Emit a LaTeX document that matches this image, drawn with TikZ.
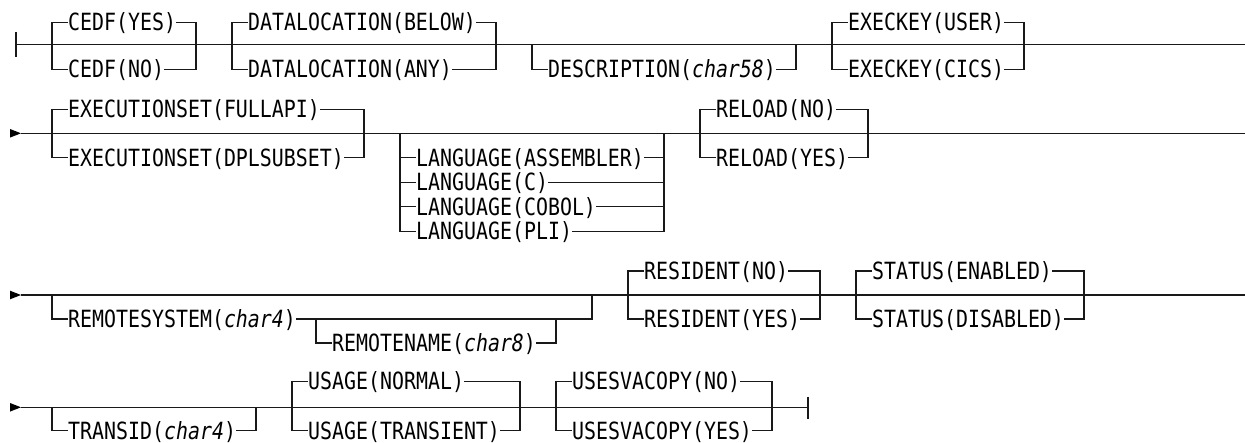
\documentclass[tikz,border=0pt]{standalone}
\usepackage{fontspec}
\newfontfamily\synfont{DejaVu Sans Mono}[FakeStretch=0.84]
% one option of a choice group: name, left x, right x, main-line y, text x, branch y, text
\newcommand\branch[7]{%
  \node[kw] (#1) at (#5,#6) {#7};
  \draw[rail] (#2,#4) |- (#1.west);
  \draw[rail] (#1.east) -| (#3,#4);}
\begin{document}
\begin{tikzpicture}[x=1pt,y=-1pt,
  rail/.style={line width=1.3pt, draw=black!90},
  kw/.style={anchor=west, inner sep=0pt, text height=17pt, text depth=0pt,
             font={\synfont\fontsize{23.7pt}{24pt}\selectfont}},
  arrowhead/.style={fill=black}]
\useasboundingbox (0,0) rectangle (1245,443);

% ---------- first line ----------
\coordinate (s1) at (16,44.5);
\coordinate (e1) at (1245,44.5);
\draw[rail] (16,32) -- (16,57);
\draw[rail] (s1) -- (e1);
\branch{cedfyes}{52}{196}{44.5}{68}{22.5}{CEDF(YES)}
\branch{cedfno}{52}{196}{44.5}{68}{69.5}{CEDF(NO)}
\branch{dlbelow}{232}{496}{44.5}{248}{22.5}{DATALOCATION(BELOW)}
\branch{dlany}{232}{496}{44.5}{248}{69.5}{DATALOCATION(ANY)}
\branch{descr}{532}{796}{44.5}{548}{69.5}{DESCRIPTION(\textit{char58})}
\branch{ekuser}{832}{1024}{44.5}{848}{22.5}{EXECKEY(USER)}
\branch{ekcics}{832}{1024}{44.5}{848}{69.5}{EXECKEY(CICS)}

% ---------- second line ----------
\coordinate (s2) at (21,133.3);
\coordinate (e2) at (1245,133.3);
\fill[arrowhead] (10,129) -- (s2) -- (10,137.6) -- cycle;
\draw[rail] (s2) -- (e2);
\branch{esfull}{52}{364}{133.3}{68}{109.3}{EXECUTIONSET(FULLAPI)}
\branch{esdpl}{52}{364}{133.3}{68}{157.8}{EXECUTIONSET(DPLSUBSET)}
\branch{langasm}{400}{664}{133.3}{416}{157.8}{LANGUAGE(ASSEMBLER)}
\branch{langc}{400}{664}{133.3}{416}{182.3}{LANGUAGE(C)}
\branch{langcob}{400}{664}{133.3}{416}{206.8}{LANGUAGE(COBOL)}
\branch{langpli}{400}{664}{133.3}{416}{231.3}{LANGUAGE(PLI)}
\branch{relno}{700}{868}{133.3}{716}{109.3}{RELOAD(NO)}
\branch{relyes}{700}{868}{133.3}{716}{157.8}{RELOAD(YES)}

% ---------- third line ----------
\coordinate (s3) at (21,295);
\coordinate (e3) at (1245,295);
\fill[arrowhead] (10,290.7) -- (s3) -- (10,299.3) -- cycle;
\draw[rail] (s3) -- (e3);
\branch{rsys}{52}{592}{295}{68}{319}{REMOTESYSTEM(\textit{char4})}
\branch{rname}{316}{556}{319}{332}{343}{REMOTENAME(\textit{char8})}
\branch{resno}{628}{820}{295}{644}{271}{RESIDENT(NO)}
\branch{resyes}{628}{820}{295}{644}{319}{RESIDENT(YES)}
\branch{sten}{856}{1084}{295}{872}{271}{STATUS(ENABLED)}
\branch{stdis}{856}{1084}{295}{872}{319}{STATUS(DISABLED)}

% ---------- fourth line ----------
\coordinate (s4) at (21,407.3);
\coordinate (e4) at (808,407.3);
\fill[arrowhead] (10,403) -- (s4) -- (10,411.6) -- cycle;
\draw[rail] (s4) -- (e4);
\draw[rail] (808,397) -- (808,419);
\branch{tran}{52}{256}{407.3}{68}{430.8}{TRANSID(\textit{char4})}
\branch{usnorm}{292}{520}{407.3}{308}{381.5}{USAGE(NORMAL)}
\branch{ustran}{292}{520}{407.3}{308}{430.8}{USAGE(TRANSIENT)}
\branch{uvno}{556}{772}{407.3}{572}{381.5}{USESVACOPY(NO)}
\branch{uvyes}{556}{772}{407.3}{572}{430.8}{USESVACOPY(YES)}
\end{tikzpicture}
\end{document}
